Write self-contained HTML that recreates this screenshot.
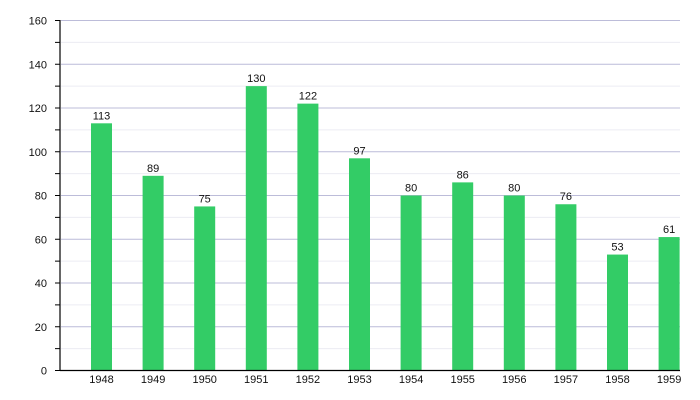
<!DOCTYPE html><html><head><style>body{margin:0;background:#fff}svg{display:block}text{font-family:"Liberation Sans",sans-serif;font-size:11px;fill:#111}</style></head><body>
<svg width="700" height="400" xmlns="http://www.w3.org/2000/svg">
<g stroke-width="1">
<line x1="61" x2="680" y1="348.63" y2="348.63" stroke="#ececf3"/>
<line x1="61" x2="680" y1="326.75" y2="326.75" stroke="#bcbcd9"/>
<line x1="61" x2="680" y1="304.88" y2="304.88" stroke="#ececf3"/>
<line x1="61" x2="680" y1="283" y2="283" stroke="#bcbcd9"/>
<line x1="61" x2="680" y1="261.13" y2="261.13" stroke="#ececf3"/>
<line x1="61" x2="680" y1="239.25" y2="239.25" stroke="#bcbcd9"/>
<line x1="61" x2="680" y1="217.38" y2="217.38" stroke="#ececf3"/>
<line x1="61" x2="680" y1="195.5" y2="195.5" stroke="#bcbcd9"/>
<line x1="61" x2="680" y1="173.63" y2="173.63" stroke="#ececf3"/>
<line x1="61" x2="680" y1="151.75" y2="151.75" stroke="#bcbcd9"/>
<line x1="61" x2="680" y1="129.88" y2="129.88" stroke="#ececf3"/>
<line x1="61" x2="680" y1="108" y2="108" stroke="#bcbcd9"/>
<line x1="61" x2="680" y1="86.13" y2="86.13" stroke="#ececf3"/>
<line x1="61" x2="680" y1="64.25" y2="64.25" stroke="#bcbcd9"/>
<line x1="61" x2="680" y1="42.38" y2="42.38" stroke="#ececf3"/>
<line x1="61" x2="680" y1="20.5" y2="20.5" stroke="#bcbcd9"/>
</g>
<g stroke="#000">
<line x1="55" x2="60" y1="370.5" y2="370.5"/><line x1="55" x2="60" y1="348.63" y2="348.63"/><line x1="55" x2="60" y1="326.75" y2="326.75"/><line x1="55" x2="60" y1="304.88" y2="304.88"/><line x1="55" x2="60" y1="283" y2="283"/><line x1="55" x2="60" y1="261.13" y2="261.13"/><line x1="55" x2="60" y1="239.25" y2="239.25"/><line x1="55" x2="60" y1="217.38" y2="217.38"/><line x1="55" x2="60" y1="195.5" y2="195.5"/><line x1="55" x2="60" y1="173.63" y2="173.63"/><line x1="55" x2="60" y1="151.75" y2="151.75"/><line x1="55" x2="60" y1="129.88" y2="129.88"/><line x1="55" x2="60" y1="108" y2="108"/><line x1="55" x2="60" y1="86.13" y2="86.13"/><line x1="55" x2="60" y1="64.25" y2="64.25"/><line x1="55" x2="60" y1="42.38" y2="42.38"/><line x1="55" x2="60" y1="20.5" y2="20.5"/>
</g>
<g text-anchor="end">
<text x="47" y="374.5">0</text><text x="47" y="330.75">20</text><text x="47" y="287">40</text><text x="47" y="243.25">60</text><text x="47" y="199.5">80</text><text x="47" y="155.75">100</text><text x="47" y="112">120</text><text x="47" y="68.25">140</text><text x="47" y="24.5">160</text>
</g>
<g fill="#33cc66">
<rect x="91" y="123.31" width="21" height="247.19"/>
<rect x="142.6" y="175.81" width="21" height="194.69"/>
<rect x="194.2" y="206.44" width="21" height="164.06"/>
<rect x="245.8" y="86.13" width="21" height="284.38"/>
<rect x="297.4" y="103.63" width="21" height="266.88"/>
<rect x="349" y="158.31" width="21" height="212.19"/>
<rect x="400.6" y="195.5" width="21" height="175"/>
<rect x="452.2" y="182.38" width="21" height="188.13"/>
<rect x="503.8" y="195.5" width="21" height="175"/>
<rect x="555.4" y="204.25" width="21" height="166.25"/>
<rect x="607" y="254.56" width="21" height="115.94"/>
<rect x="658.6" y="237.06" width="21" height="133.44"/>
</g>
<g text-anchor="middle">
<text x="101.5" y="119.3">113</text><text x="153.1" y="171.8">89</text><text x="204.7" y="202.4">75</text><text x="256.3" y="82.1">130</text><text x="307.9" y="99.6">122</text><text x="359.5" y="154.3">97</text><text x="411.1" y="191.5">80</text><text x="462.7" y="178.4">86</text><text x="514.3" y="191.5">80</text><text x="565.9" y="200.2">76</text><text x="617.5" y="250.6">53</text><text x="669.1" y="233.1">61</text>
<text x="101.5" y="383">1948</text><text x="153.1" y="383">1949</text><text x="204.7" y="383">1950</text><text x="256.3" y="383">1951</text><text x="307.9" y="383">1952</text><text x="359.5" y="383">1953</text><text x="411.1" y="383">1954</text><text x="462.7" y="383">1955</text><text x="514.3" y="383">1956</text><text x="565.9" y="383">1957</text><text x="617.5" y="383">1958</text><text x="669.1" y="383">1959</text>
</g>
<line x1="60" x2="60" y1="20" y2="371" stroke="#000" stroke-width="1.2"/>
<line x1="60" x2="680" y1="370.5" y2="370.5" stroke="#000" stroke-width="1.2"/>
</svg></body></html>
